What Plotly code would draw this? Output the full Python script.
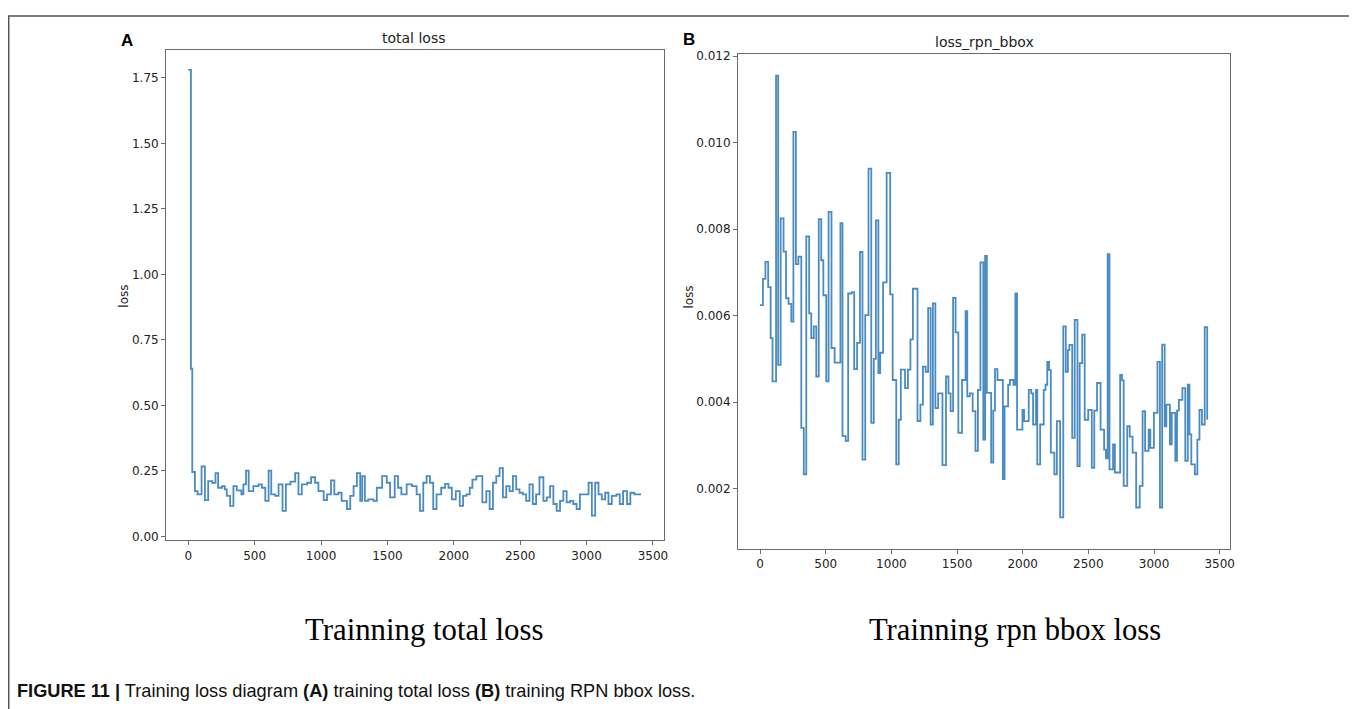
import plotly.graph_objects as go

# ---------------- data ----------------
total_iter = [0, 20, 30, 50, 70, 100, 125, 150, 180, 205, 225, 255, 275, 290, 315, 340, 365, 400, 415, 435,
              455, 490, 530, 555, 580, 605, 625, 655, 680, 710, 735, 770, 805, 830, 855, 895, 925, 955, 980, 1020,
              1045, 1075, 1100, 1130, 1155, 1195, 1220, 1245, 1270, 1295, 1310, 1330, 1355, 1395, 1420, 1450, 1460, 1495, 1520, 1555,
              1580, 1605, 1645, 1685, 1720, 1745, 1770, 1795, 1820, 1845, 1870, 1905, 1935, 1960, 1985, 2015, 2045, 2070, 2095, 2120,
              2140, 2170, 2195, 2215, 2245, 2270, 2295, 2320, 2345, 2370, 2395, 2420, 2445, 2470, 2495, 2520, 2545, 2570, 2595, 2620,
              2645, 2675, 2700, 2725, 2750, 2775, 2800, 2825, 2850, 2875, 2900, 2925, 2950, 2985, 3015, 3040, 3065, 3090, 3115, 3140,
              3165, 3190, 3225, 3250, 3275, 3305, 3330, 3360, 3410]
total_loss = [1.78, 0.64, 0.246, 0.173, 0.161, 0.267, 0.139, 0.211, 0.205, 0.242, 0.186, 0.192, 0.18, 0.155, 0.117, 0.192, 0.176, 0.161, 0.199, 0.251,
              0.173, 0.192, 0.199, 0.186, 0.136, 0.251, 0.161, 0.155, 0.199, 0.098, 0.199, 0.209, 0.242, 0.161, 0.199, 0.205, 0.226, 0.205, 0.173, 0.139,
              0.161, 0.214, 0.161, 0.167, 0.136, 0.105, 0.155, 0.192, 0.242, 0.136, 0.23, 0.136, 0.142, 0.136, 0.186, 0.186, 0.23, 0.205, 0.149, 0.23,
              0.186, 0.161, 0.199, 0.192, 0.161, 0.098, 0.205, 0.23, 0.205, 0.105, 0.161, 0.186, 0.201, 0.186, 0.142, 0.173, 0.117, 0.155, 0.161, 0.186,
              0.217, 0.23, 0.23, 0.13, 0.173, 0.105, 0.205, 0.23, 0.261, 0.149, 0.192, 0.173, 0.23, 0.18, 0.167, 0.161, 0.136, 0.199, 0.124, 0.161,
              0.226, 0.136, 0.149, 0.192, 0.124, 0.098, 0.136, 0.173, 0.13, 0.136, 0.124, 0.105, 0.161, 0.161, 0.205, 0.08, 0.205, 0.161, 0.142, 0.167,
              0.124, 0.155, 0.161, 0.124, 0.173, 0.124, 0.167, 0.161, 0.161]

rpn_iter = [0, 22, 41, 62, 81, 95, 122, 138, 157, 179, 198, 217, 238, 254, 273, 292, 314, 333, 352, 374,
            390, 409, 428, 447, 466, 482, 504, 522, 544, 568, 612, 628, 652, 671, 698, 717, 739, 761, 780, 801,
            826, 847, 866, 882, 901, 915, 937, 964, 991, 1010, 1037, 1056, 1072, 1104, 1126, 1145, 1164, 1199, 1221, 1240,
            1261, 1280, 1299, 1316, 1335, 1356, 1389, 1416, 1435, 1451, 1470, 1489, 1510, 1538, 1565, 1578, 1597, 1619, 1640, 1659,
            1678, 1700, 1714, 1727, 1760, 1776, 1789, 1808, 1835, 1849, 1862, 1889, 1903, 1930, 1944, 1957, 1976, 1998, 2011, 2025,
            2046, 2065, 2079, 2101, 2111, 2133, 2160, 2174, 2187, 2201, 2214, 2241, 2260, 2285, 2309, 2328, 2344, 2355, 2377, 2396,
            2417, 2434, 2453, 2472, 2499, 2526, 2545, 2566, 2593, 2620, 2634, 2647, 2661, 2688, 2702, 2742, 2756, 2769, 2796, 2815,
            2837, 2864, 2891, 2913, 2932, 2959, 2972, 2999, 3026, 3045, 3062, 3081, 3094, 3121, 3135, 3162, 3175, 3189, 3216, 3238,
            3257, 3270, 3284, 3311, 3330, 3346, 3365, 3386, 3405]
rpn_loss = [0.00624, 0.00685, 0.00724, 0.00666, 0.00548, 0.00448, 0.01155, 0.00486, 0.00825, 0.00748, 0.0064, 0.00627, 0.00586, 0.01025, 0.00719, 0.00736, 0.0034, 0.00233, 0.00783, 0.00605,
            0.00548, 0.00575, 0.00459, 0.00823, 0.00728, 0.00647, 0.00448, 0.0084, 0.00525, 0.00491, 0.00814, 0.00321, 0.0031, 0.00651, 0.00654, 0.00476, 0.00537, 0.00747, 0.00267, 0.00601,
            0.0094, 0.00352, 0.005, 0.0082, 0.00467, 0.00514, 0.00677, 0.0093, 0.00649, 0.00451, 0.00256, 0.00359, 0.00475, 0.00432, 0.00475, 0.00545, 0.00662, 0.00356, 0.00394, 0.00482,
            0.0047, 0.00617, 0.00348, 0.00628, 0.00386, 0.0042, 0.00254, 0.00459, 0.0042, 0.00379, 0.00641, 0.00561, 0.00329, 0.00451, 0.0061, 0.00413, 0.0042, 0.00379, 0.00287, 0.00428,
            0.00723, 0.00313, 0.00738, 0.00421, 0.0026, 0.0038, 0.00476, 0.00451, 0.00451, 0.00222, 0.0039, 0.0044, 0.00451, 0.0044, 0.00651, 0.00336, 0.00336, 0.00382, 0.00356, 0.00356,
            0.00428, 0.0042, 0.00348, 0.00428, 0.00256, 0.00348, 0.00428, 0.0044, 0.00493, 0.00474, 0.00283, 0.00233, 0.00356, 0.00133, 0.00575, 0.0047, 0.0052, 0.00532, 0.00317, 0.0059,
            0.00252, 0.0049, 0.00556, 0.00359, 0.00382, 0.00248, 0.0038, 0.00444, 0.00336, 0.0029, 0.0027, 0.00742, 0.00244, 0.00302, 0.00237, 0.00463, 0.0045, 0.00206, 0.00344, 0.0032,
            0.00283, 0.00156, 0.00206, 0.00379, 0.00287, 0.00336, 0.00294, 0.00375, 0.00493, 0.00156, 0.00533, 0.00344, 0.00394, 0.00302, 0.00375, 0.00264, 0.0038, 0.00405, 0.00432, 0.00264,
            0.0044, 0.00325, 0.00256, 0.00233, 0.00313, 0.00382, 0.00348, 0.00573, 0.00359]

x_ticks = [0, 500, 1000, 1500, 2000, 2500, 3000, 3500]
left_y_ticks = [0.00, 0.25, 0.50, 0.75, 1.00, 1.25, 1.50, 1.75]
left_y_labels = ["0.00", "0.25", "0.50", "0.75", "1.00", "1.25", "1.50", "1.75"]
right_y_ticks = [0.002, 0.004, 0.006, 0.008, 0.010, 0.012]
right_y_labels = ["0.002", "0.004", "0.006", "0.008", "0.010", "0.012"]

# ---------------- layout helpers ----------------
# the page body has an 8px margin, so the figure occupies page pixels 8..1357 x 8..709
OFF = 8
W, H = 1357 - OFF, 709 - OFF
def px(x):
    return (x - OFF) / W
def py(y):
    return 1 - (y - OFF) / H

LINE = "#4a8bc2"
AX = "#6b6b6b"
TICKFONT = dict(family="DejaVu Sans", size=12, color="#222")

fig = go.Figure()
fig.add_trace(go.Scatter(x=total_iter, y=total_loss, mode="lines", line=dict(color=LINE, width=1.8, shape="hv"),
                         xaxis="x", yaxis="y", showlegend=False))
fig.add_trace(go.Scatter(x=rpn_iter, y=rpn_loss, mode="lines", line=dict(color=LINE, width=1.8, shape="hv"),
                         xaxis="x2", yaxis="y2", showlegend=False))

axis_common = dict(showline=True, mirror=True, linecolor=AX, linewidth=1, ticks="outside", ticklen=4,
                   tickcolor=AX, tickwidth=1, showgrid=False, zeroline=False, tickfont=TICKFONT)

fig.update_layout(
    width=W, height=H, margin=dict(l=0, r=0, t=0, b=0),
    paper_bgcolor="white", plot_bgcolor="white",
    xaxis=dict(domain=[px(166.7), px(666)], range=[-167, 3580], anchor="y",
               tickvals=x_ticks, ticktext=[str(v) for v in x_ticks], **axis_common),
    yaxis=dict(domain=[py(541.5), py(46.7)], range=[-0.014, 1.855], anchor="x",
               tickvals=left_y_ticks, ticktext=left_y_labels, **axis_common),
    xaxis2=dict(domain=[px(740.7), px(1235)], range=[-168, 3582], anchor="y2",
                tickvals=x_ticks, ticktext=[str(v) for v in x_ticks], **axis_common),
    yaxis2=dict(domain=[py(550), py(50)], range=[0.00061, 0.01206], anchor="x2",
                tickvals=right_y_ticks, ticktext=right_y_labels, **axis_common),
)

ann = []
def add_text(x, y, text, size, family="DejaVu Sans", angle=0, xanchor="center", color="#222"):
    ann.append(dict(x=px(x), y=py(y), xref="paper", yref="paper", text=text, showarrow=False,
                    font=dict(family=family, size=size, color=color), textangle=angle,
                    xanchor=xanchor, yanchor="middle"))

add_text(416, 34, "total loss", 14)
add_text(988, 38.5, "loss_rpn_bbox", 14)
add_text(125, 295, "loss", 12, angle=-90)
add_text(692, 296, "loss", 12, angle=-90)
add_text(127, 36.5, "<b>A</b>", 17, family="Liberation Sans", color="#000")
add_text(692, 35.5, "<b>B</b>", 17, family="Liberation Sans", color="#000")
add_text(426, 632, "Trainning total loss", 30.8, family="Liberation Serif", color="#000")
add_text(1019, 632, "Trainning rpn bbox loss", 30.6, family="Liberation Serif", color="#000")
add_text(15, 694, "<b>FIGURE 11 |</b> Training loss diagram <b>(A)</b> training total loss <b>(B)</b> training RPN bbox loss.",
         18.2, family="Liberation Sans", xanchor="left", color="#111")
fig.update_layout(annotations=ann)

FRAME = "#555555"
fig.update_layout(shapes=[
    dict(type="line", xref="paper", yref="paper", x0=px(8), x1=px(1356), y0=py(12), y1=py(12), line=dict(color=FRAME, width=1.5)),
    dict(type="line", xref="paper", yref="paper", x0=px(8.7), x1=px(8.7), y0=py(12), y1=py(720), line=dict(color=FRAME, width=1.5)),
    dict(type="line", xref="paper", yref="paper", x0=px(1355.5), x1=px(1355.5), y0=py(12), y1=py(720), line=dict(color=FRAME, width=1.5)),
])

fig.write_html("out.html")
